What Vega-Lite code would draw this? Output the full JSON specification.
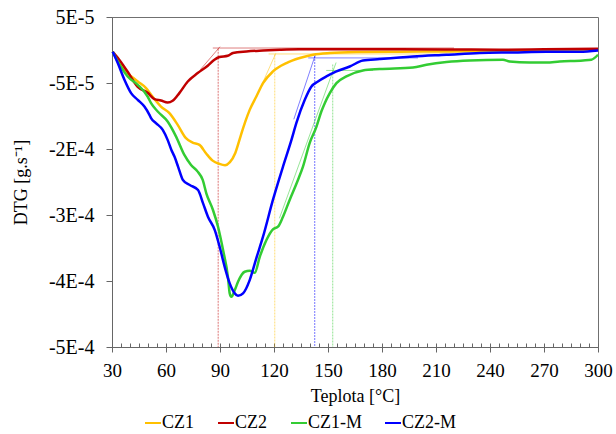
{
  "$schema": "https://vega.github.io/schema/vega-lite/v6.json",
  "width": 486,
  "height": 330,
  "autosize": {"type": "none"},
  "padding": {"left": 112, "top": 17, "right": 18, "bottom": 87},
  "config": {
    "font": "Liberation Serif",
    "view": {"stroke": "#707070", "strokeWidth": 1},
    "axis": {"domainColor": "#666666", "tickColor": "#666666", "grid": false, "labelColor": "#000000", "titleColor": "#000000", "labelFont": "Liberation Serif", "titleFont": "Liberation Serif", "titleFontWeight": "normal", "labelFlush": false, "labelOverlap": false, "labelBound": false},
    "legend": {"orient": "none", "legendX": 32, "legendY": 397, "direction": "horizontal", "symbolType": "stroke", "symbolSize": 256, "symbolStrokeWidth": 2, "symbolOpacity": 1, "symbolDash": [1, 0], "labelFontSize": 18, "labelFont": "Liberation Serif", "labelColor": "#000000", "columnPadding": 19, "labelOffset": 0, "title": null}
  },
  "datasets": {
    "curves": [
      {"series": "CZ1", "T": 30.4, "dtg": -0.027e-4},
      {"series": "CZ1", "T": 33.2, "dtg": -0.148e-4},
      {"series": "CZ1", "T": 38.7, "dtg": -0.350e-4},
      {"series": "CZ1", "T": 44.3, "dtg": -0.477e-4},
      {"series": "CZ1", "T": 48.9, "dtg": -0.577e-4},
      {"series": "CZ1", "T": 51.7, "dtg": -0.679e-4},
      {"series": "CZ1", "T": 57.2, "dtg": -0.857e-4},
      {"series": "CZ1", "T": 61.9, "dtg": -0.957e-4},
      {"series": "CZ1", "T": 66.5, "dtg": -1.134e-4},
      {"series": "CZ1", "T": 71.1, "dtg": -1.336e-4},
      {"series": "CZ1", "T": 74.8, "dtg": -1.403e-4},
      {"series": "CZ1", "T": 78.6, "dtg": -1.438e-4},
      {"series": "CZ1", "T": 82.2, "dtg": -1.564e-4},
      {"series": "CZ1", "T": 85.9, "dtg": -1.676e-4},
      {"series": "CZ1", "T": 89.7, "dtg": -1.726e-4},
      {"series": "CZ1", "T": 92.8, "dtg": -1.745e-4},
      {"series": "CZ1", "T": 95.5, "dtg": -1.70e-4},
      {"series": "CZ1", "T": 98.5, "dtg": -1.56e-4},
      {"series": "CZ1", "T": 101.5, "dtg": -1.30e-4},
      {"series": "CZ1", "T": 104, "dtg": -1.09e-4},
      {"series": "CZ1", "T": 106.5, "dtg": -0.907e-4},
      {"series": "CZ1", "T": 110.2, "dtg": -0.705e-4},
      {"series": "CZ1", "T": 113.9, "dtg": -0.502e-4},
      {"series": "CZ1", "T": 119.4, "dtg": -0.325e-4},
      {"series": "CZ1", "T": 126.9, "dtg": -0.198e-4},
      {"series": "CZ1", "T": 134.3, "dtg": -0.122e-4},
      {"series": "CZ1", "T": 141.7, "dtg": -0.072e-4},
      {"series": "CZ1", "T": 151, "dtg": -0.046e-4},
      {"series": "CZ1", "T": 165.8, "dtg": -0.031e-4},
      {"series": "CZ1", "T": 190, "dtg": -0.025e-4},
      {"series": "CZ1", "T": 217.6, "dtg": -0.022e-4},
      {"series": "CZ1", "T": 250, "dtg": -0.012e-4},
      {"series": "CZ1", "T": 300, "dtg": 0.004e-4},

      {"series": "CZ2", "T": 30.4, "dtg": -0.027e-4},
      {"series": "CZ2", "T": 33.2, "dtg": -0.118e-4},
      {"series": "CZ2", "T": 38.7, "dtg": -0.33e-4},
      {"series": "CZ2", "T": 44.3, "dtg": -0.558e-4},
      {"series": "CZ2", "T": 49.8, "dtg": -0.649e-4},
      {"series": "CZ2", "T": 53.6, "dtg": -0.744e-4},
      {"series": "CZ2", "T": 57.2, "dtg": -0.766e-4},
      {"series": "CZ2", "T": 60.9, "dtg": -0.796e-4},
      {"series": "CZ2", "T": 63.7, "dtg": -0.770e-4},
      {"series": "CZ2", "T": 67.4, "dtg": -0.653e-4},
      {"series": "CZ2", "T": 72.1, "dtg": -0.477e-4},
      {"series": "CZ2", "T": 77.6, "dtg": -0.350e-4},
      {"series": "CZ2", "T": 83.2, "dtg": -0.239e-4},
      {"series": "CZ2", "T": 86.9, "dtg": -0.148e-4},
      {"series": "CZ2", "T": 89.7, "dtg": -0.107e-4},
      {"series": "CZ2", "T": 94.3, "dtg": -0.087e-4},
      {"series": "CZ2", "T": 97.2, "dtg": -0.046e-4},
      {"series": "CZ2", "T": 104.7, "dtg": -0.022e-4},
      {"series": "CZ2", "T": 113.9, "dtg": -0.007e-4},
      {"series": "CZ2", "T": 123.2, "dtg": 0.004e-4},
      {"series": "CZ2", "T": 134, "dtg": 0.011e-4},
      {"series": "CZ2", "T": 160, "dtg": 0.010e-4},
      {"series": "CZ2", "T": 190, "dtg": 0.011e-4},
      {"series": "CZ2", "T": 220, "dtg": 0.008e-4},
      {"series": "CZ2", "T": 245, "dtg": 0.004e-4},
      {"series": "CZ2", "T": 270, "dtg": 0.010e-4},
      {"series": "CZ2", "T": 300, "dtg": 0.019e-4},

      {"series": "CZ1-M", "T": 30.4, "dtg": -0.027e-4},
      {"series": "CZ1-M", "T": 33.2, "dtg": -0.174e-4},
      {"series": "CZ1-M", "T": 38.7, "dtg": -0.401e-4},
      {"series": "CZ1-M", "T": 44.3, "dtg": -0.527e-4},
      {"series": "CZ1-M", "T": 49.8, "dtg": -0.705e-4},
      {"series": "CZ1-M", "T": 51.7, "dtg": -0.805e-4},
      {"series": "CZ1-M", "T": 55.4, "dtg": -0.932e-4},
      {"series": "CZ1-M", "T": 60.9, "dtg": -1.084e-4},
      {"series": "CZ1-M", "T": 65.6, "dtg": -1.312e-4},
      {"series": "CZ1-M", "T": 70.2, "dtg": -1.590e-4},
      {"series": "CZ1-M", "T": 73.9, "dtg": -1.741e-4},
      {"series": "CZ1-M", "T": 77.6, "dtg": -1.843e-4},
      {"series": "CZ1-M", "T": 80.4, "dtg": -1.969e-4},
      {"series": "CZ1-M", "T": 82.4, "dtg": -2.171e-4},
      {"series": "CZ1-M", "T": 86.1, "dtg": -2.424e-4},
      {"series": "CZ1-M", "T": 88.9, "dtg": -2.678e-4},
      {"series": "CZ1-M", "T": 91.7, "dtg": -3.031e-4},
      {"series": "CZ1-M", "T": 94.4, "dtg": -3.436e-4},
      {"series": "CZ1-M", "T": 95.4, "dtg": -3.688e-4},
      {"series": "CZ1-M", "T": 96.3, "dtg": -3.740e-4},
      {"series": "CZ1-M", "T": 98.2, "dtg": -3.638e-4},
      {"series": "CZ1-M", "T": 100, "dtg": -3.512e-4},
      {"series": "CZ1-M", "T": 103.7, "dtg": -3.360e-4},
      {"series": "CZ1-M", "T": 106.5, "dtg": -3.345e-4},
      {"series": "CZ1-M", "T": 109.3, "dtg": -3.376e-4},
      {"series": "CZ1-M", "T": 112.1, "dtg": -3.133e-4},
      {"series": "CZ1-M", "T": 115.8, "dtg": -2.879e-4},
      {"series": "CZ1-M", "T": 119.4, "dtg": -2.717e-4},
      {"series": "CZ1-M", "T": 122.2, "dtg": -2.678e-4},
      {"series": "CZ1-M", "T": 125, "dtg": -2.526e-4},
      {"series": "CZ1-M", "T": 128.7, "dtg": -2.272e-4},
      {"series": "CZ1-M", "T": 133.3, "dtg": -1.969e-4},
      {"series": "CZ1-M", "T": 136.1, "dtg": -1.767e-4},
      {"series": "CZ1-M", "T": 139.8, "dtg": -1.412e-4},
      {"series": "CZ1-M", "T": 143.6, "dtg": -1.160e-4},
      {"series": "CZ1-M", "T": 146.3, "dtg": -0.932e-4},
      {"series": "CZ1-M", "T": 148.2, "dtg": -0.805e-4},
      {"series": "CZ1-M", "T": 151, "dtg": -0.653e-4},
      {"series": "CZ1-M", "T": 154.7, "dtg": -0.502e-4},
      {"series": "CZ1-M", "T": 160.2, "dtg": -0.401e-4},
      {"series": "CZ1-M", "T": 169.4, "dtg": -0.310e-4},
      {"series": "CZ1-M", "T": 178.7, "dtg": -0.289e-4},
      {"series": "CZ1-M", "T": 197.2, "dtg": -0.265e-4},
      {"series": "CZ1-M", "T": 204.7, "dtg": -0.224e-4},
      {"series": "CZ1-M", "T": 215.8, "dtg": -0.183e-4},
      {"series": "CZ1-M", "T": 228.7, "dtg": -0.159e-4},
      {"series": "CZ1-M", "T": 247.2, "dtg": -0.148e-4},
      {"series": "CZ1-M", "T": 250.9, "dtg": -0.174e-4},
      {"series": "CZ1-M", "T": 262, "dtg": -0.189e-4},
      {"series": "CZ1-M", "T": 271.3, "dtg": -0.189e-4},
      {"series": "CZ1-M", "T": 278.7, "dtg": -0.174e-4},
      {"series": "CZ1-M", "T": 291.7, "dtg": -0.159e-4},
      {"series": "CZ1-M", "T": 296.3, "dtg": -0.148e-4},
      {"series": "CZ1-M", "T": 300, "dtg": -0.072e-4},

      {"series": "CZ2-M", "T": 30.4, "dtg": -0.027e-4},
      {"series": "CZ2-M", "T": 33.2, "dtg": -0.198e-4},
      {"series": "CZ2-M", "T": 36.9, "dtg": -0.451e-4},
      {"series": "CZ2-M", "T": 40.6, "dtg": -0.653e-4},
      {"series": "CZ2-M", "T": 44.3, "dtg": -0.755e-4},
      {"series": "CZ2-M", "T": 48, "dtg": -0.857e-4},
      {"series": "CZ2-M", "T": 50.8, "dtg": -0.983e-4},
      {"series": "CZ2-M", "T": 51.7, "dtg": -1.033e-4},
      {"series": "CZ2-M", "T": 54.4, "dtg": -1.108e-4},
      {"series": "CZ2-M", "T": 58.2, "dtg": -1.210e-4},
      {"series": "CZ2-M", "T": 60.9, "dtg": -1.362e-4},
      {"series": "CZ2-M", "T": 63, "dtg": -1.514e-4},
      {"series": "CZ2-M", "T": 64.7, "dtg": -1.615e-4},
      {"series": "CZ2-M", "T": 66.7, "dtg": -1.767e-4},
      {"series": "CZ2-M", "T": 69.4, "dtg": -1.969e-4},
      {"series": "CZ2-M", "T": 73.2, "dtg": -2.045e-4},
      {"series": "CZ2-M", "T": 77.8, "dtg": -2.121e-4},
      {"series": "CZ2-M", "T": 80.6, "dtg": -2.323e-4},
      {"series": "CZ2-M", "T": 83.3, "dtg": -2.526e-4},
      {"series": "CZ2-M", "T": 87.1, "dtg": -2.728e-4},
      {"series": "CZ2-M", "T": 89.8, "dtg": -2.981e-4},
      {"series": "CZ2-M", "T": 92.6, "dtg": -3.285e-4},
      {"series": "CZ2-M", "T": 95.4, "dtg": -3.536e-4},
      {"series": "CZ2-M", "T": 98.2, "dtg": -3.688e-4},
      {"series": "CZ2-M", "T": 100, "dtg": -3.725e-4},
      {"series": "CZ2-M", "T": 102.8, "dtg": -3.688e-4},
      {"series": "CZ2-M", "T": 106.5, "dtg": -3.486e-4},
      {"series": "CZ2-M", "T": 110.2, "dtg": -3.153e-4},
      {"series": "CZ2-M", "T": 113.9, "dtg": -2.829e-4},
      {"series": "CZ2-M", "T": 119.4, "dtg": -2.272e-4},
      {"series": "CZ2-M", "T": 125, "dtg": -1.767e-4},
      {"series": "CZ2-M", "T": 129.7, "dtg": -1.362e-4},
      {"series": "CZ2-M", "T": 132.4, "dtg": -1.108e-4},
      {"series": "CZ2-M", "T": 137.1, "dtg": -0.755e-4},
      {"series": "CZ2-M", "T": 140.8, "dtg": -0.553e-4},
      {"series": "CZ2-M", "T": 144.4, "dtg": -0.477e-4},
      {"series": "CZ2-M", "T": 149.1, "dtg": -0.401e-4},
      {"series": "CZ2-M", "T": 154.7, "dtg": -0.325e-4},
      {"series": "CZ2-M", "T": 162.1, "dtg": -0.250e-4},
      {"series": "CZ2-M", "T": 169.4, "dtg": -0.159e-4},
      {"series": "CZ2-M", "T": 178.7, "dtg": -0.137e-4},
      {"series": "CZ2-M", "T": 197.2, "dtg": -0.098e-4},
      {"series": "CZ2-M", "T": 215.8, "dtg": -0.072e-4},
      {"series": "CZ2-M", "T": 234.3, "dtg": -0.046e-4},
      {"series": "CZ2-M", "T": 252.8, "dtg": -0.037e-4},
      {"series": "CZ2-M", "T": 271.3, "dtg": -0.027e-4},
      {"series": "CZ2-M", "T": 289.8, "dtg": -0.027e-4},
      {"series": "CZ2-M", "T": 300, "dtg": -0.007e-4}
    ],
    "onsets": [
      {"series": "CZ2", "T": 89, "dtg": 0.02e-4, "bottom": -4.5e-4},
      {"series": "CZ1", "T": 120.4, "dtg": -0.07e-4, "bottom": -4.5e-4},
      {"series": "CZ2-M", "T": 142.6, "dtg": -0.09e-4, "bottom": -4.5e-4},
      {"series": "CZ1-M", "T": 152.6, "dtg": -0.22e-4, "bottom": -4.5e-4}
    ],
    "tangents": [
      {"series": "CZ2", "id": "r1", "T": 79, "dtg": -0.30e-4},
      {"series": "CZ2", "id": "r1", "T": 90, "dtg": 0.05e-4},
      {"series": "CZ2", "id": "r2", "T": 86, "dtg": 0.03e-4},
      {"series": "CZ2", "id": "r2", "T": 220, "dtg": 0.03e-4},
      {"series": "CZ1", "id": "o1", "T": 112, "dtg": -0.60e-4},
      {"series": "CZ1", "id": "o1", "T": 121, "dtg": -0.05e-4},
      {"series": "CZ1", "id": "o2", "T": 117, "dtg": -0.06e-4},
      {"series": "CZ1", "id": "o2", "T": 220, "dtg": -0.06e-4},
      {"series": "CZ2-M", "id": "b1", "T": 131, "dtg": -1.05e-4},
      {"series": "CZ2-M", "id": "b1", "T": 143, "dtg": -0.07e-4},
      {"series": "CZ2-M", "id": "b2", "T": 139, "dtg": -0.12e-4},
      {"series": "CZ2-M", "id": "b2", "T": 200, "dtg": -0.12e-4},
      {"series": "CZ1-M", "id": "g1", "T": 123, "dtg": -2.55e-4},
      {"series": "CZ1-M", "id": "g1", "T": 154.5, "dtg": -0.19e-4},
      {"series": "CZ1-M", "id": "g2", "T": 149, "dtg": -0.31e-4},
      {"series": "CZ1-M", "id": "g2", "T": 175, "dtg": -0.31e-4}
    ]
  },
  "layer": [
    {
      "data": {"name": "onsets"},
      "mark": {"type": "rule", "strokeWidth": 1.2, "opacity": 0.45, "strokeDash": [2, 1]},
      "encoding": {
        "x": {"field": "T", "type": "quantitative", "scale": {"domain": [30, 300], "nice": false, "zero": false},
              "axis": {"orient": "bottom", "values": [30,35,40,45,50,55,60,65,70,75,80,85,90,95,100,105,110,115,120,125,130,135,140,145,150,155,160,165,170,175,180,185,190,195,200,205,210,215,220,225,230,235,240,245,250,255,260,265,270,275,280,285,290,295,300], "labels": false, "title": null, "domain": false, "tickSize": -4, "ticks": true}},
        "y": {"field": "dtg", "type": "quantitative", "scale": {"domain": [-0.00045, 0.00005], "nice": false, "zero": false}, "title": "DTG [g.s⁻¹]"},
        "y2": {"field": "bottom"},
        "color": {"field": "series", "type": "nominal", "scale": {"domain": ["CZ1", "CZ2", "CZ1-M", "CZ2-M"], "range": ["#FFC000", "#C00000", "#33CC33", "#0000FF"]}}
      }
    },
    {
      "data": {"name": "tangents"},
      "mark": {"type": "line", "strokeWidth": 1, "opacity": 0.5},
      "encoding": {
        "x": {"field": "T", "type": "quantitative", "axis": null},
        "y": {"field": "dtg", "type": "quantitative", "title": "DTG [g.s⁻¹]"},
        "detail": {"field": "id"},
        "color": {"field": "series", "type": "nominal"}
      }
    },
    {
      "data": {"name": "curves"},
      "mark": {"type": "line", "interpolate": "monotone", "strokeWidth": 2.5},
      "encoding": {
        "x": {"field": "T", "type": "quantitative",
              "axis": {"orient": "bottom", "values": [30, 60, 90, 120, 150, 180, 210, 240, 270, 300], "title": "Teplota [°C]", "labelFontSize": 19, "titleFontSize": 18, "tickSize": 5, "labelPadding": 9, "titlePadding": 7}},
        "y": {"field": "dtg", "type": "quantitative", "title": "DTG [g.s⁻¹]",
              "axis": {"values": [0.00005, -0.00005, -0.00015, -0.00025, -0.00035, -0.00045], "labelExpr": "datum.value > 0 ? '5E-5' : datum.value > -0.0001 ? '-5E-5' : datum.value > -0.0002 ? '-2E-4' : datum.value > -0.0003 ? '-3E-4' : datum.value > -0.0004 ? '-4E-4' : '-5E-4'", "labelFontSize": 20, "titleFontSize": 18, "tickSize": 6, "labelPadding": 12, "titlePadding": 18}},
        "color": {"field": "series", "type": "nominal"}
      }
    }
  ],
  "resolve": {"axis": {"x": "independent"}}
}
